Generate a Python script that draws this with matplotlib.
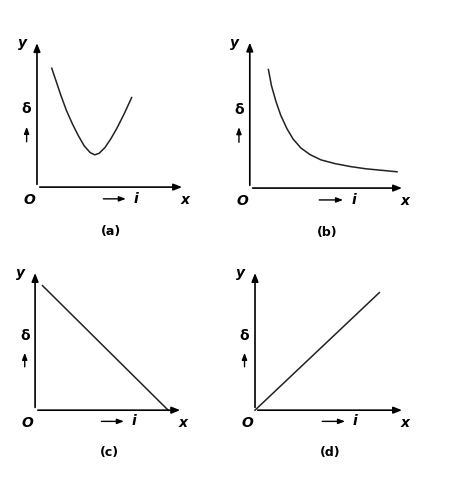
import matplotlib.pyplot as plt

# curve data in panel units (0..10 on both axes)
a_x = [1.0, 1.3, 1.6, 2.0, 2.4, 2.8, 3.2, 3.6, 3.9, 4.2, 4.6, 5.0, 5.4, 5.9, 6.4]
a_y = [8.1, 7.2, 6.3, 5.2, 4.3, 3.5, 2.8, 2.35, 2.2, 2.3, 2.7, 3.3, 4.0, 5.0, 6.1]
b_x = [1.2, 1.4, 1.7, 2.0, 2.4, 2.8, 3.3, 3.9, 4.6, 5.5, 6.5, 7.5, 8.5, 9.5]
b_y = [8.0, 6.9, 5.8, 4.9, 4.0, 3.3, 2.7, 2.25, 1.9, 1.65, 1.45, 1.3, 1.2, 1.1]
c_x = [0.5, 9.0]
c_y = [8.9, 0.0]
d_x = [0.0, 8.3]
d_y = [0.0, 8.4]

panels = [
    ("(a)", a_x, a_y, [0.078, 0.615, 0.312, 0.302]),
    ("(b)", b_x, b_y, [0.527, 0.613, 0.327, 0.305]),
    ("(c)", c_x, c_y, [0.074, 0.156, 0.312, 0.288]),
    ("(d)", d_x, d_y, [0.538, 0.156, 0.316, 0.288]),
]

fig = plt.figure(figsize=(4.74, 4.86), dpi=100)
fig.patch.set_facecolor("white")

for label, xs, ys, pos in panels:
    ax = fig.add_axes(pos)
    ax.set_xlim(0, 10)
    ax.set_ylim(0, 10)
    ax.axis("off")
    ax.plot(xs, ys, color="#222222", lw=1.1, clip_on=False)

    arrow = dict(arrowstyle="-|>,head_length=0.5,head_width=0.2", color="black", lw=1.2)
    ax.annotate("", xy=(0, 10), xytext=(0, 0), arrowprops=arrow, annotation_clip=False)
    ax.annotate("", xy=(10, 0), xytext=(0, 0), arrowprops=arrow, annotation_clip=False)
    # small arrows beside delta and i
    small = dict(arrowstyle="-|>,head_length=0.4,head_width=0.15", color="black", lw=1.0)
    ax.annotate("", xy=(-0.7, 4.3), xytext=(-0.7, 2.9), arrowprops=small, annotation_clip=False)
    ax.annotate("", xy=(6.2, -0.8), xytext=(4.3, -0.8), arrowprops=small, annotation_clip=False)

    kw = dict(fontsize=10, fontweight="bold", fontstyle="italic", clip_on=False)
    ax.text(-1.0, 9.8, "y", ha="center", va="center", **kw)
    ax.text(-0.7, 5.3, "δ", ha="center", va="center", fontsize=10, fontweight="bold")
    ax.text(-0.5, -0.9, "O", ha="center", va="center", **kw)
    ax.text(6.7, -0.8, "i", ha="center", va="center", **kw)
    ax.text(10.0, -0.9, "x", ha="center", va="center", **kw)
    ax.text(5.0, -3.0, label, ha="center", va="center", fontsize=9, fontweight="bold")

fig.savefig("out.png", dpi=100, facecolor="white")
